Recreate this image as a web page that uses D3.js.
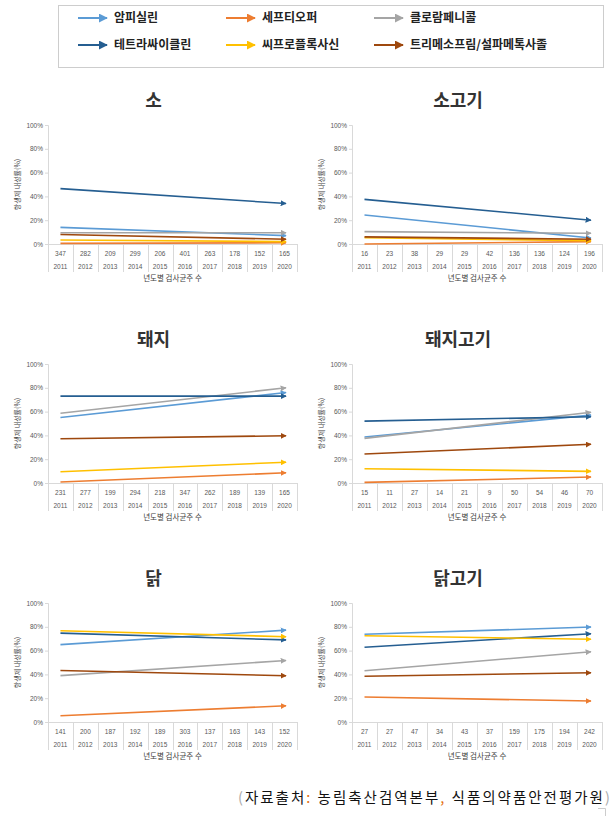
<!DOCTYPE html>
<html>
<head>
<meta charset="utf-8">
<script src="https://cdn.jsdelivr.net/npm/d3@7"></script>
<style>
  body { margin: 0; background: #fff; }
  svg { display: block; font-family: "Noto Sans CJK KR", "Noto Sans", sans-serif; }
</style>
</head>
<body>
<svg id="chart"></svg>
<script>
// years and number of tested isolates per panel
var years = [2011, 2012, 2013, 2014, 2015, 2016, 2017, 2018, 2019, 2020];
var countsCattle = [347, 282, 209, 299, 206, 401, 263, 178, 152, 165];
var countsBeef = [16, 23, 38, 29, 29, 42, 136, 136, 124, 196];
var countsPig = [231, 277, 199, 294, 218, 347, 262, 189, 139, 165];
var countsPork = [15, 11, 27, 14, 21, 9, 50, 54, 46, 70];
var countsChicken = [141, 200, 187, 192, 189, 303, 137, 163, 143, 152];
var countsChickenMeat = [27, 27, 47, 34, 43, 37, 159, 175, 194, 242];

var drugs = ["암피실린", "세프티오퍼", "클로람페니콜", "테트라싸이클린", "씨프로플록사신", "트리메소프림/설파메톡사졸"];
var drugColors = ["#5B9BD5", "#ED7D31", "#A5A5A5", "#255E91", "#FFC000", "#9E480E"];

// resistance rate (%) trend: [2011, 2020], same order as drugs
var rateCattle = [[14, 7], [0.5, 1], [9.5, 9.5], [46.5, 34], [3.4, 2], [8, 4]];
var rateBeef = [[24.4, 5], [0, 2], [10.4, 9], [37.5, 20], [5.3, 2.8], [6, 4]];
var ratePig = [[55, 76], [0.8, 8.6], [58.6, 80], [73, 73], [9.4, 17.5], [37.2, 39.7]];
var ratePork = [[38.7, 57], [0.5, 5], [37.5, 59.4], [52, 55.7], [12, 9.8], [24.4, 32.5]];
var rateChicken = [[65, 77.2], [5.3, 13.6], [39, 51.7], [74.7, 69], [76.7, 71.7], [43.3, 38.9]];
var rateChickenMeat = [[73.7, 79.8], [21, 17.6], [43.1, 59], [62.8, 74.2], [72.5, 69.5], [38.4, 41.4]];

var panelTitles = ["소", "소고기", "돼지", "돼지고기", "닭", "닭고기"];
var panelCounts = [countsCattle, countsBeef, countsPig, countsPork, countsChicken, countsChickenMeat];
var panelRates = [rateCattle, rateBeef, ratePig, ratePork, rateChicken, rateChickenMeat];
var yTicks = [0, 20, 40, 60, 80, 100];

var W = 613, H = 816;
var svg = d3.select("#chart").attr("width", W).attr("height", H);

// arrow markers, one per colour
var defs = svg.append("defs");
drugColors.forEach(function (c, i) {
    defs.append("marker")
        .attr("id", "arr" + i)
        .attr("markerUnits", "userSpaceOnUse")
        .attr("viewBox", "0 0 10 10")
        .attr("refX", 9).attr("refY", 5)
        .attr("markerWidth", 6).attr("markerHeight", 6)
        .attr("orient", "auto")
        .append("path").attr("d", "M0,0 L10,5 L0,10 z").attr("fill", c);
    defs.append("marker")
        .attr("id", "legArr" + i)
        .attr("markerUnits", "userSpaceOnUse")
        .attr("viewBox", "0 0 10 10")
        .attr("refX", 9).attr("refY", 5)
        .attr("markerWidth", 9).attr("markerHeight", 9)
        .attr("orient", "auto")
        .append("path").attr("d", "M0,0 L10,5 L0,10 z").attr("fill", c);
});

// legend box
svg.append("rect")
    .attr("x", 58.5).attr("y", 5.5).attr("width", 545).attr("height", 62)
    .attr("fill", "none").attr("stroke", "#9a9a9a").attr("stroke-dasharray", "1,1");

var legendCols = [78, 226, 374];
var legendRows = [18, 45];
var legend = svg.selectAll(".legend")
    .data(drugs)
    .enter().append("g")
    .attr("class", "legend")
    .attr("transform", function (d, i) {
        return "translate(" + legendCols[i % 3] + "," + legendRows[Math.floor(i / 3)] + ")";
    });
legend.append("line")
    .attr("x1", 0).attr("x2", 29).attr("y1", 0).attr("y2", 0)
    .attr("stroke", function (d, i) { return drugColors[i]; })
    .attr("stroke-width", 2)
    .attr("marker-end", function (d, i) { return "url(#legArr" + i + ")"; });
legend.append("text")
    .attr("x", 36).attr("y", 0).attr("dy", "0.35em")
    .style("font-size", "12px").style("font-weight", "bold").attr("fill", "#222")
    .text(function (d) { return d; });

// panel layout
var colX = [[48, 297], [352, 602]];
var rowY = [[125, 244], [364, 483], [603, 722]];

panelTitles.forEach(function (title, p) {
    var cx = colX[p % 2], ry = rowY[Math.floor(p / 2)];
    var x = d3.scaleBand().domain(years).range(cx).padding(0);
    var y = d3.scaleLinear().domain([0, 100]).range([ry[1], ry[0]]);
    var g = svg.append("g");

    // title
    g.append("text")
        .attr("x", (cx[0] - 38 + cx[1]) / 2).attr("y", ry[0] - 18)
        .attr("text-anchor", "middle")
        .style("font-size", "18px").style("font-weight", "bold").attr("fill", "#333")
        .text(title);

    // y axis
    var yAxis = g.append("g")
        .attr("transform", "translate(" + cx[0] + ",0)")
        .call(d3.axisLeft(y).tickValues(yTicks).tickSize(3).tickFormat(function (d) { return d + "%"; }));
    yAxis.select(".domain").attr("stroke", "#D9D9D9");
    yAxis.selectAll(".tick line").attr("stroke", "#D9D9D9");
    yAxis.selectAll(".tick text")
        .attr("x", -5).attr("fill", "#595959")
        .style("font-family", "'Liberation Sans', Arial, sans-serif").style("font-size", "6.5px");

    // y axis label
    g.append("text")
        .attr("transform", "translate(" + (cx[0] - 30) + "," + (ry[0] + ry[1]) / 2 + ") rotate(-90)")
        .attr("text-anchor", "middle").attr("dy", "0.35em")
        .style("font-size", "7px").attr("fill", "#404040")
        .text("항생제 내성률(%)");

    // x axis as a table: counts and years
    g.append("line")
        .attr("x1", cx[0]).attr("x2", cx[1]).attr("y1", ry[1] + 0.5).attr("y2", ry[1] + 0.5)
        .attr("stroke", "#D9D9D9");
    var edges = years.map(function (d) { return x(d); }).concat([x.range()[1]]);
    g.selectAll(".sep").data(edges).enter().append("line")
        .attr("x1", function (d) { return Math.round(d) + 0.5; })
        .attr("x2", function (d) { return Math.round(d) + 0.5; })
        .attr("y1", ry[1]).attr("y2", ry[1] + 28)
        .attr("stroke", "#D9D9D9");
    g.selectAll(".cnt").data(panelCounts[p]).enter().append("text")
        .attr("x", function (d, i) { return x(years[i]) + x.bandwidth() / 2; })
        .attr("y", ry[1] + 11.5)
        .attr("text-anchor", "middle")
        .style("font-family", "'Liberation Sans', Arial, sans-serif").style("font-size", "6.5px")
        .attr("fill", "#595959")
        .text(function (d) { return d; });
    g.selectAll(".yr").data(years).enter().append("text")
        .attr("x", function (d) { return x(d) + x.bandwidth() / 2; })
        .attr("y", ry[1] + 24.5)
        .attr("text-anchor", "middle")
        .style("font-family", "'Liberation Sans', Arial, sans-serif").style("font-size", "6.5px")
        .attr("fill", "#595959")
        .text(function (d) { return d; });
    g.append("text")
        .attr("x", (cx[0] + cx[1]) / 2).attr("y", ry[1] + 37)
        .attr("text-anchor", "middle")
        .style("font-size", "7.5px").attr("fill", "#404040")
        .text("년도별 검사균주 수");

    // trend arrows 2011 -> 2020
    var first = years[0], last = years[years.length - 1];
    g.selectAll(".trend").data(panelRates[p]).enter().append("line")
        .attr("x1", x(first) + x.bandwidth() / 2)
        .attr("x2", x(last) + x.bandwidth() / 2 + 1.5)
        .attr("y1", function (d) { return y(d[0]); })
        .attr("y2", function (d) { return y(d[1]); })
        .attr("stroke", function (d, i) { return drugColors[i]; })
        .attr("stroke-width", 1.6)
        .attr("marker-end", function (d, i) { return "url(#arr" + i + ")"; });
});

// source note
var src = svg.append("text")
    .attr("x", 238).attr("y", 803)
    .style("font-size", "14.5px").style("letter-spacing", "2px").attr("fill", "#111");
src.append("tspan").attr("fill", "#aaa").text("(");
src.append("tspan").text("자료출처");
src.append("tspan").attr("fill", "#E46C0A").text(":");
src.append("tspan").text(" 농림축산검역본부");
src.append("tspan").attr("fill", "#E46C0A").text(",");
src.append("tspan").text(" 식품의약품안전평가원");
src.append("tspan").attr("fill", "#aaa").text(")");

// corner mark
svg.append("path").attr("d", "M598,808.5 H605.5 V816").attr("fill", "none").attr("stroke", "#ccc");
</script>
</body>
</html>
